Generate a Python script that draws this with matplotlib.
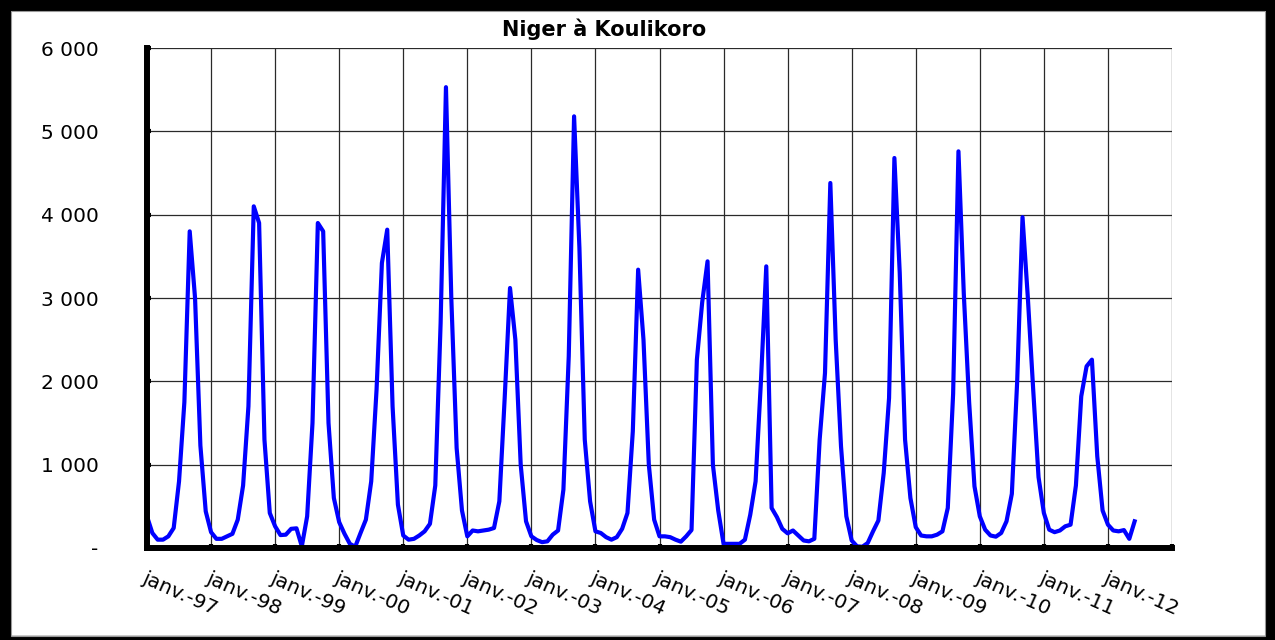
import numpy as np
import matplotlib.pyplot as plt
from matplotlib.patches import Rectangle

# Niger à Koulikoro - débits mensuels (m3/s), janv. 1997 -> juin 2012
title = 'Niger à Koulikoro'
year_labels = ['janv.-97', 'janv.-98', 'janv.-99', 'janv.-00', 'janv.-01', 'janv.-02',
               'janv.-03', 'janv.-04', 'janv.-05', 'janv.-06', 'janv.-07', 'janv.-08',
               'janv.-09', 'janv.-10', 'janv.-11', 'janv.-12']
ytick_values = [0, 1000, 2000, 3000, 4000, 5000, 6000]
ytick_labels = ['-', '1 000', '2 000', '3 000', '4 000', '5 000', '6 000']

debit = [
    380, 180, 100, 100, 140, 240, 800, 1750, 3800, 3000, 1230, 440,    # 1997
    190, 110, 110, 140, 170, 340, 750, 1700, 4100, 3900, 1300, 420,    # 1998
    260, 155, 160, 230, 236, 20, 380, 1500, 3900, 3800, 1500, 600,     # 1999
    310, 170, 50, 15, 180, 340, 800, 1900, 3420, 3820, 1700, 520,      # 2000
    150, 100, 110, 150, 200, 290, 750, 2700, 5530, 3000, 1200, 450,    # 2001
    140, 210, 200, 210, 220, 240, 560, 1800, 3120, 2500, 1000, 320,    # 2002
    140, 96, 70, 80, 160, 210, 700, 2300, 5180, 3600, 1300, 560,       # 2003
    200, 180, 130, 100, 130, 230, 420, 1400, 3340, 2500, 1000, 340,    # 2004
    140, 140, 130, 100, 76, 140, 216, 2260, 2950, 3440, 1000, 450,     # 2005
    50, 50, 50, 50, 100, 400, 800, 2000, 3380, 480, 370, 230,          # 2006
    176, 210, 150, 90, 80, 110, 1300, 2100, 4380, 2500, 1220, 380,    # 2007
    90, 20, 15, 60, 200, 330, 900, 1800, 4680, 3300, 1300, 600,        # 2008
    250, 150, 140, 140, 160, 200, 480, 1850, 4760, 3050, 1750, 740,    # 2009
    380, 220, 150, 136, 180, 320, 650, 2000, 3970, 3000, 1900, 850,    # 2010
    420, 220, 190, 210, 260, 280, 750, 1820, 2180, 2260, 1100, 450,    # 2011
    280, 210, 200, 215, 110, 320,                                      # 2012
]

W, H = 1275, 640
fig = plt.figure(figsize=(W / 100, H / 100), dpi=100)
ax = fig.add_axes([147 / W, 1 - 548 / H, (1172 - 147) / W, 500 / H])

months = np.arange(len(debit))
ax.plot(months, debit, color='#0000ff', lw=3)

ax.set_xlim(0, 192)
ax.set_ylim(0, 6000)
ax.set_xticks(np.arange(0, 193, 12))
ax.set_xticklabels(year_labels + [''], rotation=-24, ha='left', va='top',
                   rotation_mode='anchor')
ax.set_yticks(ytick_values)
ax.set_yticklabels(ytick_labels)

ax.set_axisbelow(True)
ax.grid(True, color='#2a2a2a', lw=0.9)
for side in ['top', 'right']:
    ax.spines[side].set_visible(False)
for side in ['left', 'bottom']:
    ax.spines[side].set_linewidth(4.3)
    ax.spines[side].set_color('black')

ax.tick_params(axis='both', direction='in', length=3, width=3, color='black',
               labelsize=14.5)
ax.tick_params(axis='y', pad=35)
ax.tick_params(axis='x', pad=15)

fig.text(604 / W, 1 - 29 / H, title, ha='center', va='center',
         fontsize=15, fontweight='bold')

# black frame around the picture, thin grey line inside it
for x0, y0, w, h in [(0, 0, 10 / W, 1), (0, 1 - 10 / H, 1, 10 / H),
                     (1 - 9 / W, 0, 9 / W, 1), (0, 0, 1, 4 / H)]:
    fig.add_artist(Rectangle((x0, y0), w, h, transform=fig.transFigure,
                             color='black', zorder=10))
fig.add_artist(Rectangle((11 / W, 4 / H), (W - 21) / W, (H - 15) / H,
                         transform=fig.transFigure, fill=False,
                         edgecolor='#999999', lw=0.8, zorder=10))

fig.savefig('out.png', dpi=100)
